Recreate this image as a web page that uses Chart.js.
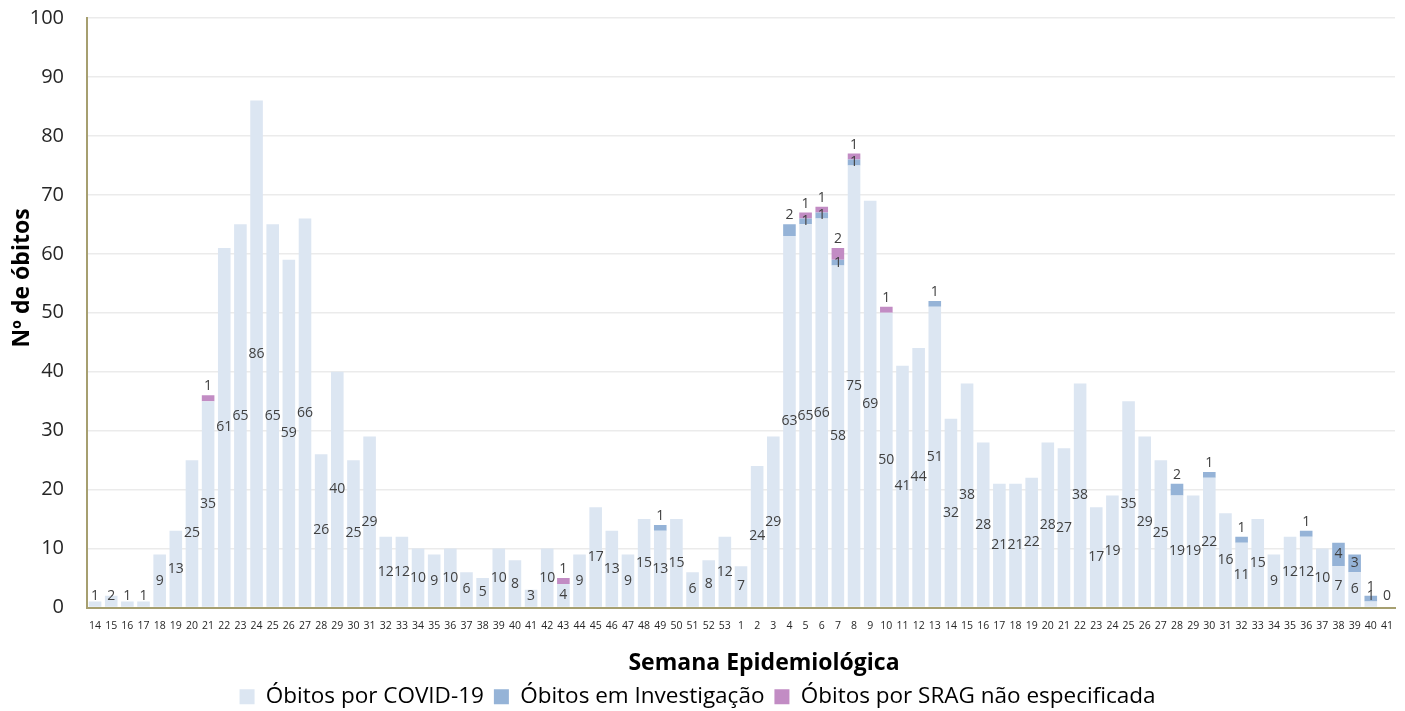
<!DOCTYPE html>
<html>
<head>
<meta charset="utf-8">
<script src="https://cdn.jsdelivr.net/npm/chart.js@4"></script>
<style>
  body { margin: 0; background: #fff; }
</style>
</head>
<body>
<canvas id="grafico" width="1405" height="711"></canvas>
<script>
/* ===== DADOS ===== */
const semanas = [
    '14','15','16','17','18','19','20','21','22','23','24','25','26','27','28','29','30','31','32','33',
    '34','35','36','37','38','39','40','41','42','43','44','45','46','47','48','49','50','51','52','53',
    '1','2','3','4','5','6','7','8','9','10','11','12','13','14','15','16','17','18','19','20',
    '21','22','23','24','25','26','27','28','29','30','31','32','33','34','35','36','37','38','39','40','41'
];

const obitosCovid = [
    1, 2, 1, 1, 9, 13, 25, 35, 61, 65, 86, 65, 59, 66, 26, 40, 25, 29, 12, 12,
    10, 9, 10, 6, 5, 10, 8, 3, 10, 4, 9, 17, 13, 9, 15, 13, 15, 6, 8, 12,
    7, 24, 29, 63, 65, 66, 58, 75, 69, 50, 41, 44, 51, 32, 38, 28, 21, 21, 22, 28,
    27, 38, 17, 19, 35, 29, 25, 19, 19, 22, 16, 11, 15, 9, 12, 12, 10, 7, 6, 1, 0
];

const obitosInvestigacao = [
    0, 0, 0, 0, 0, 0, 0, 0, 0, 0, 0, 0, 0, 0, 0, 0, 0, 0, 0, 0,
    0, 0, 0, 0, 0, 0, 0, 0, 0, 0, 0, 0, 0, 0, 0, 1, 0, 0, 0, 0,
    0, 0, 0, 2, 1, 1, 1, 1, 0, 0, 0, 0, 1, 0, 0, 0, 0, 0, 0, 0,
    0, 0, 0, 0, 0, 0, 0, 2, 0, 1, 0, 1, 0, 0, 0, 1, 0, 4, 3, 1, 0
];

const obitosSrag = [
    0, 0, 0, 0, 0, 0, 0, 1, 0, 0, 0, 0, 0, 0, 0, 0, 0, 0, 0, 0,
    0, 0, 0, 0, 0, 0, 0, 0, 0, 1, 0, 0, 0, 0, 0, 0, 0, 0, 0, 0,
    0, 0, 0, 0, 1, 1, 2, 1, 0, 1, 0, 0, 0, 0, 0, 0, 0, 0, 0, 0,
    0, 0, 0, 0, 0, 0, 0, 0, 0, 0, 0, 0, 0, 0, 0, 0, 0, 0, 0, 0, 0
];

const ticksY = [0, 10, 20, 30, 40, 50, 60, 70, 80, 90, 100];

const FONTE = '"Open Sans", "Noto Sans", sans-serif';

/* ===== RÓTULOS DAS BARRAS ===== */
const rotulos = {
    id: 'rotulos',
    afterDatasetsDraw(chart) {
        const ctx = chart.ctx;
        const sets = chart.data.datasets;
        ctx.save();
        ctx.font = '14px ' + FONTE;
        ctx.fillStyle = '#404040';
        ctx.textAlign = 'center';
        ctx.textBaseline = 'middle';
        sets.forEach((ds, i) => {
            chart.getDatasetMeta(i).data.forEach((bar, j) => {
                const v = ds.data[j];
                if (i > 0 && !v) return;
                let y = (bar.y + bar.base) / 2;
                if (i === 0) {
                    y = Math.min(y, bar.base - 11);
                } else {
                    const topo = sets.slice(i + 1).every(d => !d.data[j]);
                    if (topo && bar.base - bar.y < 12) y = bar.y - 9;
                }
                ctx.fillText(v, bar.x, y);
            });
        });
        ctx.restore();
    }
};

/* ===== TÍTULOS DOS EIXOS ===== */
const titulos = {
    id: 'titulos',
    afterDraw(chart) {
        const ctx = chart.ctx;
        ctx.save();
        ctx.font = 'bold 23px ' + FONTE;
        ctx.fillStyle = '#000';
        ctx.textAlign = 'center';
        ctx.textBaseline = 'middle';
        ctx.fillText('Semana Epidemiológica', 764, 663);
        ctx.translate(22, 278);
        ctx.rotate(-Math.PI / 2);
        ctx.fillText('Nº de óbitos', 0, 0);
        ctx.restore();
    }
};

/* ===== GRÁFICO ===== */
new Chart(document.getElementById('grafico'), {
    type: 'bar',
    data: {
        labels: semanas,
        datasets: [
            { label: 'Óbitos por COVID-19', data: obitosCovid, backgroundColor: '#DCE6F2' },
            { label: 'Óbitos em Investigação', data: obitosInvestigacao, backgroundColor: '#95B3D7' },
            { label: 'Óbitos por SRAG não especificada', data: obitosSrag, backgroundColor: '#C28CC4' }
        ]
    },
    options: {
        responsive: false,
        animation: false,
        barPercentage: 0.78,
        categoryPercentage: 1,
        layout: { padding: { top: 18, right: 10, left: 0, bottom: -7 } },
        scales: {
            x: {
                stacked: true,
                grid: { display: false, drawTicks: false },
                border: { color: '#A69F70', width: 2 },
                ticks: {
                    autoSkip: false,
                    maxRotation: 0,
                    padding: 12,
                    color: '#262626',
                    font: { family: FONTE, size: 10.5 }
                },
                afterFit(scale) { scale.height = 68; }
            },
            y: {
                stacked: true,
                min: 0,
                max: 100,
                afterBuildTicks(scale) { scale.ticks = ticksY.map(v => ({ value: v })); },
                grid: { color: '#EBEBEB', lineWidth: 1.5, drawTicks: false },
                border: { color: '#A69F70', width: 2 },
                ticks: {
                    padding: 23,
                    color: '#262626',
                    font: { family: FONTE, size: 20 }
                },
                afterFit(scale) {
                    scale.width = 87;
                    scale.paddingTop = 0;
                    scale.paddingBottom = 0;
                }
            }
        },
        plugins: {
            legend: {
                position: 'bottom',
                labels: {
                    boxWidth: 15,
                    boxHeight: 15,
                    padding: 10,
                    color: '#000',
                    font: { family: FONTE, size: 22.5 }
                }
            },
            tooltip: { enabled: false }
        }
    },
    plugins: [rotulos, titulos]
});
</script>
</body>
</html>
